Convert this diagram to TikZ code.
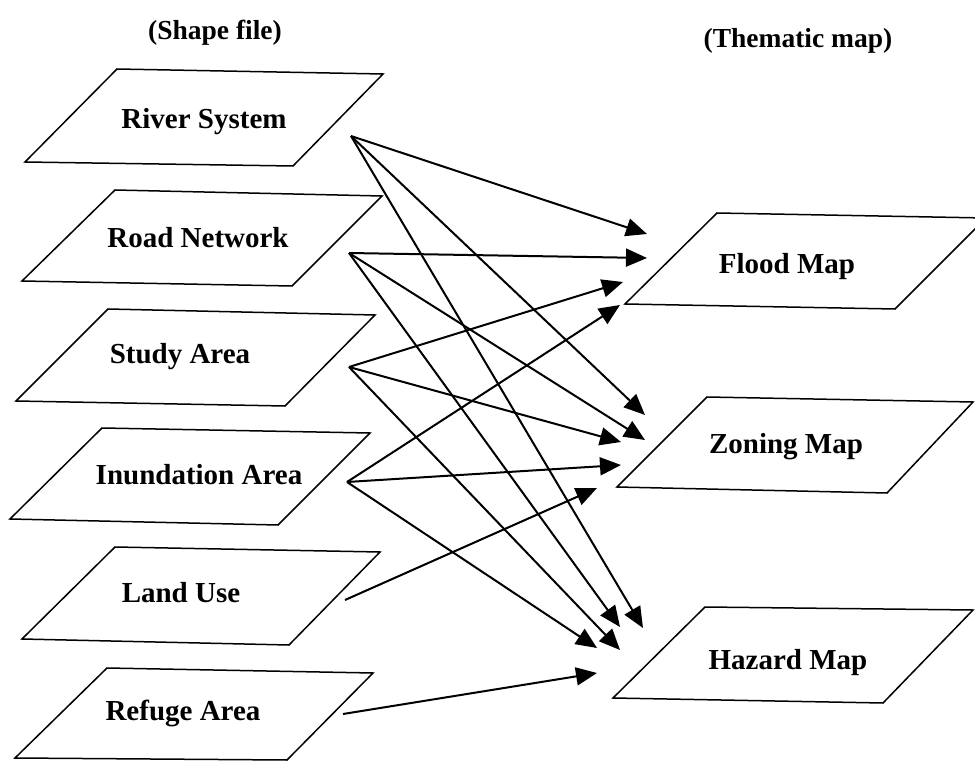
\documentclass[tikz,border=0pt]{standalone}
\usepackage{fontspec}
\setmainfont{Liberation Serif}
\usetikzlibrary{arrows.meta}
\begin{document}
\begin{tikzpicture}[x=1pt,y=-1pt,
  para/.style={draw=black,line width=1.5pt,line join=miter},
  lbl/.style={font=\fontsize{29}{32}\selectfont\bfseries,inner sep=0pt},
  hdr/.style={font=\fontsize{27.5}{30}\selectfont\bfseries,inner sep=0pt},
  conn/.style={draw=black,line width=2pt,-{Triangle[length=21pt,width=18pt]}}]
\clip (0,0) rectangle (975,762);
\fill[white] (0,0) rectangle (975,762);
% headers
\node[hdr] (hshape) at (215,33) {(Shape file)};
\node[hdr] (hthem) at (798,41) {(Thematic map)};
% left parallelograms
\draw[para] (117,69) -- (383,74) -- (293,166) -- (25,162) -- cycle;
\draw[para] (115,190) -- (382,196) -- (292,286) -- (22,281) -- cycle;
\draw[para] (108,309) -- (375,315) -- (285,406) -- (16,401) -- cycle;
\draw[para] (102,428) -- (370,433) -- (278,525) -- (10,519) -- cycle;
\draw[para] (115,547) -- (380,552) -- (289,645) -- (22,639) -- cycle;
\draw[para] (107,668) -- (373,673) -- (287,760) -- (15,758) -- cycle;
% right parallelograms
\draw[para] (717,213) -- (986,218) -- (895,309) -- (625,304) -- cycle;
\draw[para] (707,397) -- (973,402) -- (887,493) -- (617,487) -- cycle;
\draw[para] (705,607) -- (973,610) -- (883,703) -- (613,698) -- cycle;
% labels
\node[lbl] (river) at (204,122) {River System};
\node[lbl] (road) at (198,238) {Road Network};
\node[lbl] (study) at (180,357) {Study Area};
\node[lbl] (inund) at (199,475) {Inundation Area};
\node[lbl] (land) at (181,593) {Land Use};
\node[lbl] (refuge) at (183,713) {Refuge Area};
\node[lbl] (flood) at (787,267) {Flood Map};
\node[lbl] (zoning) at (786,447) {Zoning Map};
\node[lbl] (hazard) at (788,663) {Hazard Map};
% connector ends
\coordinate (sRiver) at (351,136);
\coordinate (sRoad) at (349,253);
\coordinate (sStudy) at (349,367);
\coordinate (sInund) at (347,482);
\coordinate (sLand) at (345,600);
\coordinate (sRefuge) at (343,714);
\coordinate (fRiver) at (647,234);
\coordinate (fRoad) at (647,258);
\coordinate (fStudy) at (623,282);
\coordinate (fInund) at (620,305);
\coordinate (zRiver) at (645,415);
\coordinate (zRoad) at (645,440);
\coordinate (zStudy) at (621,442);
\coordinate (zInund) at (621,465);
\coordinate (zLand) at (597,488);
\coordinate (hRiver) at (643,628);
\coordinate (hRoad) at (620,627);
\coordinate (hStudy) at (620,650);
\coordinate (hInund) at (597,648);
\coordinate (hRefuge) at (597,673);
% connectors
\draw[conn] (sRiver) -- (fRiver);
\draw[conn] (sRiver) -- (zRiver);
\draw[conn] (sRiver) -- (hRiver);
\draw[conn] (sRoad) -- (fRoad);
\draw[conn] (sRoad) -- (zRoad);
\draw[conn] (sRoad) -- (hRoad);
\draw[conn] (sStudy) -- (fStudy);
\draw[conn] (sStudy) -- (zStudy);
\draw[conn] (sStudy) -- (hStudy);
\draw[conn] (sInund) -- (fInund);
\draw[conn] (sInund) -- (zInund);
\draw[conn] (sInund) -- (hInund);
\draw[conn] (sLand) -- (zLand);
\draw[conn] (sRefuge) -- (hRefuge);
\end{tikzpicture}
\end{document}
